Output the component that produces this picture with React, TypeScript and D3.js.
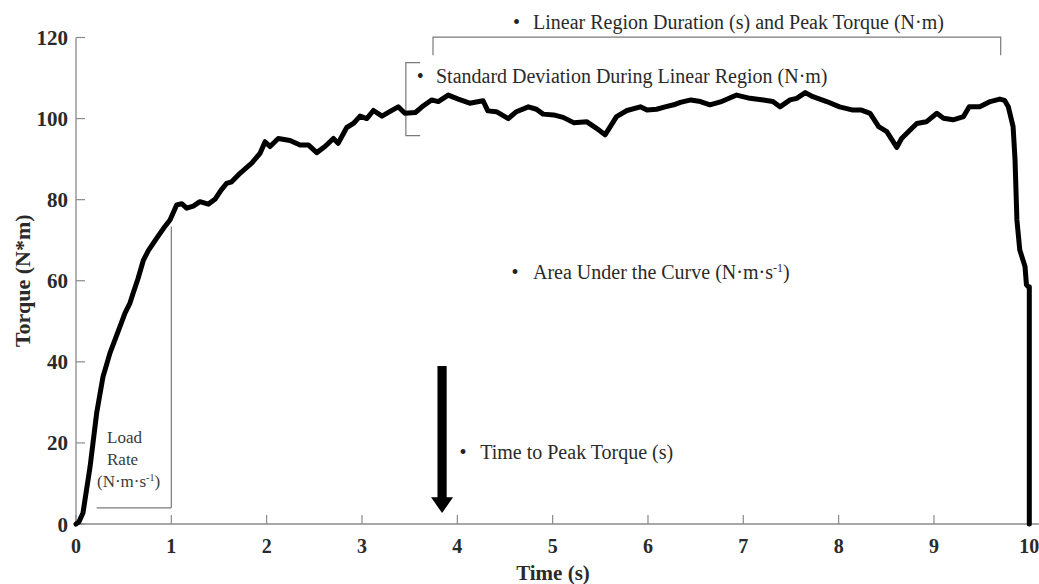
import React from "react";
import * as d3 from "d3";

const timeS = [0.0, 0.03, 0.073, 0.147, 0.217, 0.283, 0.357, 0.46, 0.514, 0.566, 0.6, 0.65, 0.706, 0.76, 0.847, 0.92, 0.986, 1.056, 1.109, 1.161, 1.23, 1.3, 1.388, 1.458, 1.52, 1.58, 1.633, 1.72, 1.843, 1.93, 1.983, 2.035, 2.122, 2.245, 2.35, 2.437, 2.525, 2.612, 2.7, 2.75, 2.84, 2.91, 2.98, 3.05, 3.12, 3.21, 3.29, 3.38, 3.45, 3.56, 3.63, 3.73, 3.8, 3.905, 4.01, 4.13, 4.27, 4.32, 4.41, 4.535, 4.62, 4.745, 4.83, 4.9, 5.01, 5.11, 5.22, 5.36, 5.46, 5.55, 5.67, 5.78, 5.92, 5.99, 6.09, 6.18, 6.27, 6.34, 6.45, 6.55, 6.65, 6.76, 6.93, 7.07, 7.21, 7.31, 7.385, 7.49, 7.56, 7.65, 7.73, 7.875, 8.01, 8.15, 8.24, 8.33, 8.42, 8.505, 8.61, 8.66, 8.75, 8.82, 8.92, 9.03, 9.1, 9.2, 9.31, 9.37, 9.48, 9.59, 9.69, 9.74, 9.78, 9.83, 9.85, 9.87, 9.9, 9.955, 9.97, 9.99, 10.0, 10.0];
const torqueNm = [0, 0.5, 2.7, 14, 27.4, 36.3, 42.2, 48.6, 52, 54.5, 57, 60.5, 65, 67.5, 70.5, 73, 75, 78.7, 79.0, 77.9, 78.4, 79.5, 78.9, 80.1, 82.3, 84, 84.4, 86.5, 89, 91.4, 94.3, 93.1, 95.1, 94.6, 93.5, 93.5, 91.6, 93.1, 95.1, 93.9, 97.8, 98.8, 100.6, 100, 102, 100.6, 101.7, 102.9, 101.3, 101.5, 102.9, 104.6, 104.2, 105.8, 104.8, 103.8, 104.4, 101.9, 101.7, 100, 101.7, 102.9, 102.3, 101.1, 100.9, 100.3, 99, 99.2, 97.6, 96, 100.5, 102, 102.9, 102.1, 102.3, 102.9, 103.4, 104, 104.6, 104.2, 103.4, 104.1, 105.8, 105, 104.6, 104.2, 102.9, 104.6, 105, 106.4, 105.4, 104.2, 102.9, 102.1, 102.1, 101.3, 98, 96.8, 92.9, 95.1, 97.2, 98.8, 99.2, 101.3, 100.1, 99.7, 100.5, 102.9, 102.9, 104.2, 104.8, 104.5, 102.9, 98, 90, 75, 67.6, 63.5, 59, 58.5, 58.5, 0];

const xTicks = [0, 1, 2, 3, 4, 5, 6, 7, 8, 9, 10];
const yTicks = [0, 20, 40, 60, 80, 100, 120];

// annotation anchors in data units
const loadRateBox = { t0: 0.217, t1: 1.0, yLow: 4.0, yTop: 73.4 };
const linearBracket = { t0: 3.745, t1: 9.7, top: 120.1, end: 115.6 };
const sdBracket = { t: 3.46, tEnd: 3.61, top: 113.8, bottom: 95.8 };
const peakArrow = { t: 3.84, top: 39, headBase: 6.6, tip: 2.7 };

const bulletNotes = [
  { bullet: 4.62, text: 4.794, y: 122.0, label: "Linear Region Duration (s) and Peak Torque (N·m)", sup: "" },
  { bullet: 3.61, text: 3.776, y: 108.8, label: "Standard Deviation During Linear Region (N·m)", sup: "" },
  { bullet: 4.605, text: 4.794, y: 60.5, label: "Area Under the Curve (N·m·s", sup: "-1" },
  { bullet: 4.06, text: 4.24, y: 16.0, label: "Time to Peak Torque (s)", sup: "" },
];

const loadRateLines = ["Load", "Rate"];

const W = 1039;
const H = 584;
const serif = "'Liberation Serif', 'Times New Roman', serif";

export default function App() {
  const x = d3.scaleLinear().domain([0, 10]).range([76, 1029.3]);
  const y = d3.scaleLinear().domain([0, 120]).range([524, 37.5]);
  const pts: [number, number][] = timeS.map((t, i) => [t, torqueNm[i]]);
  const line = d3
    .line<[number, number]>()
    .x((d) => x(d[0]))
    .y((d) => y(d[1]))
    .curve(d3.curveLinear);

  const axisColor = "#8a8a8a";
  const annColor = "#7a7a7a";
  const textColor = "#2a2a2a";

  const ax = x(peakArrow.t);
  const shaftW = 4.6;
  const headW = 11;
  const arrowPath = `M${ax - shaftW},${y(peakArrow.top)} L${ax + shaftW},${y(peakArrow.top)} L${ax + shaftW},${y(peakArrow.headBase)} L${ax + headW},${y(peakArrow.headBase)} L${ax},${y(peakArrow.tip)} L${ax - headW},${y(peakArrow.headBase)} L${ax - shaftW},${y(peakArrow.headBase)} Z`;

  return (
    <svg
      width={W}
      height={H}
      style={{ position: "absolute", left: 0, top: 0, background: "#fff" }}
      fontFamily={serif}
    >
      {/* axes */}
      <line x1={x(0)} x2={x(10.1)} y1={y(0)} y2={y(0)} stroke={axisColor} strokeWidth={1.3} />
      <line x1={x(0)} x2={x(0)} y1={y(0)} y2={y(120)} stroke={axisColor} strokeWidth={1.3} />
      {xTicks.map((t) => (
        <g key={"xt" + t}>
          <line x1={x(t)} x2={x(t)} y1={y(0)} y2={y(0) - 9} stroke={axisColor} strokeWidth={1.2} />
          <text x={x(t)} y={553} textAnchor="middle" fontSize={20} fontWeight="bold" fill={textColor}>
            {t}
          </text>
        </g>
      ))}
      {yTicks.map((v) => (
        <g key={"yt" + v}>
          <line x1={x(0)} x2={x(0) + 9} y1={y(v)} y2={y(v)} stroke={axisColor} strokeWidth={1.2} />
          <text x={68} y={y(v) + 7.5} textAnchor="end" fontSize={21} fontWeight="bold" fill={textColor}>
            {v}
          </text>
        </g>
      ))}
      <text x={553} y={580} textAnchor="middle" fontSize={21} fontWeight="bold" fill={textColor}>
        Time (s)
      </text>
      <text
        transform={`translate(30,${(y(0) + y(120)) / 2}) rotate(-90)`}
        textAnchor="middle"
        fontSize={22}
        fontWeight="bold"
        fill={textColor}
      >
        Torque (N*m)
      </text>

      {/* load rate */}
      <line x1={x(loadRateBox.t1)} x2={x(loadRateBox.t1)} y1={y(loadRateBox.yTop)} y2={y(loadRateBox.yLow)} stroke={annColor} strokeWidth={1.2} />
      <line x1={x(loadRateBox.t0)} x2={x(loadRateBox.t1)} y1={y(loadRateBox.yLow)} y2={y(loadRateBox.yLow)} stroke={annColor} strokeWidth={1.2} />
      {loadRateLines.map((s, i) => (
        <text key={s} x={107} y={443 + i * 22} fontSize={17} fill="#3a3a3a">
          {s}
        </text>
      ))}
      <text x={97} y={487} fontSize={17} fill="#3a3a3a">
        (N·m·s<tspan dy={-6} fontSize={10}>-1</tspan>
        <tspan dy={6}>)</tspan>
      </text>

      {/* linear region bracket */}
      <path
        d={`M${x(linearBracket.t0)},${y(linearBracket.end)} L${x(linearBracket.t0)},${y(linearBracket.top)} L${x(linearBracket.t1)},${y(linearBracket.top)} L${x(linearBracket.t1)},${y(linearBracket.end)}`}
        fill="none"
        stroke={annColor}
        strokeWidth={1.2}
      />
      {/* SD bracket */}
      <path
        d={`M${x(sdBracket.tEnd)},${y(sdBracket.top)} L${x(sdBracket.t)},${y(sdBracket.top)} L${x(sdBracket.t)},${y(sdBracket.bottom)} L${x(sdBracket.tEnd)},${y(sdBracket.bottom)}`}
        fill="none"
        stroke={annColor}
        strokeWidth={1.2}
      />

      {/* curve */}
      <path d={line(pts) || ""} fill="none" stroke="#000" strokeWidth={5} strokeLinejoin="round" strokeLinecap="round" />

      {/* arrow */}
      <path d={arrowPath} fill="#000" />

      {/* bullet notes */}
      {bulletNotes.map((n) => (
        <g key={n.label}>
          <text x={x(n.bullet)} y={y(n.y)} textAnchor="middle" fontSize={20} fill="#222">
            •
          </text>
          <text x={x(n.text)} y={y(n.y)} fontSize={20} fill={textColor}>
            {n.label}
            {n.sup ? (
              <>
                <tspan dy={-7} fontSize={12}>{n.sup}</tspan>
                <tspan dy={7}>)</tspan>
              </>
            ) : null}
          </text>
        </g>
      ))}
    </svg>
  );
}
